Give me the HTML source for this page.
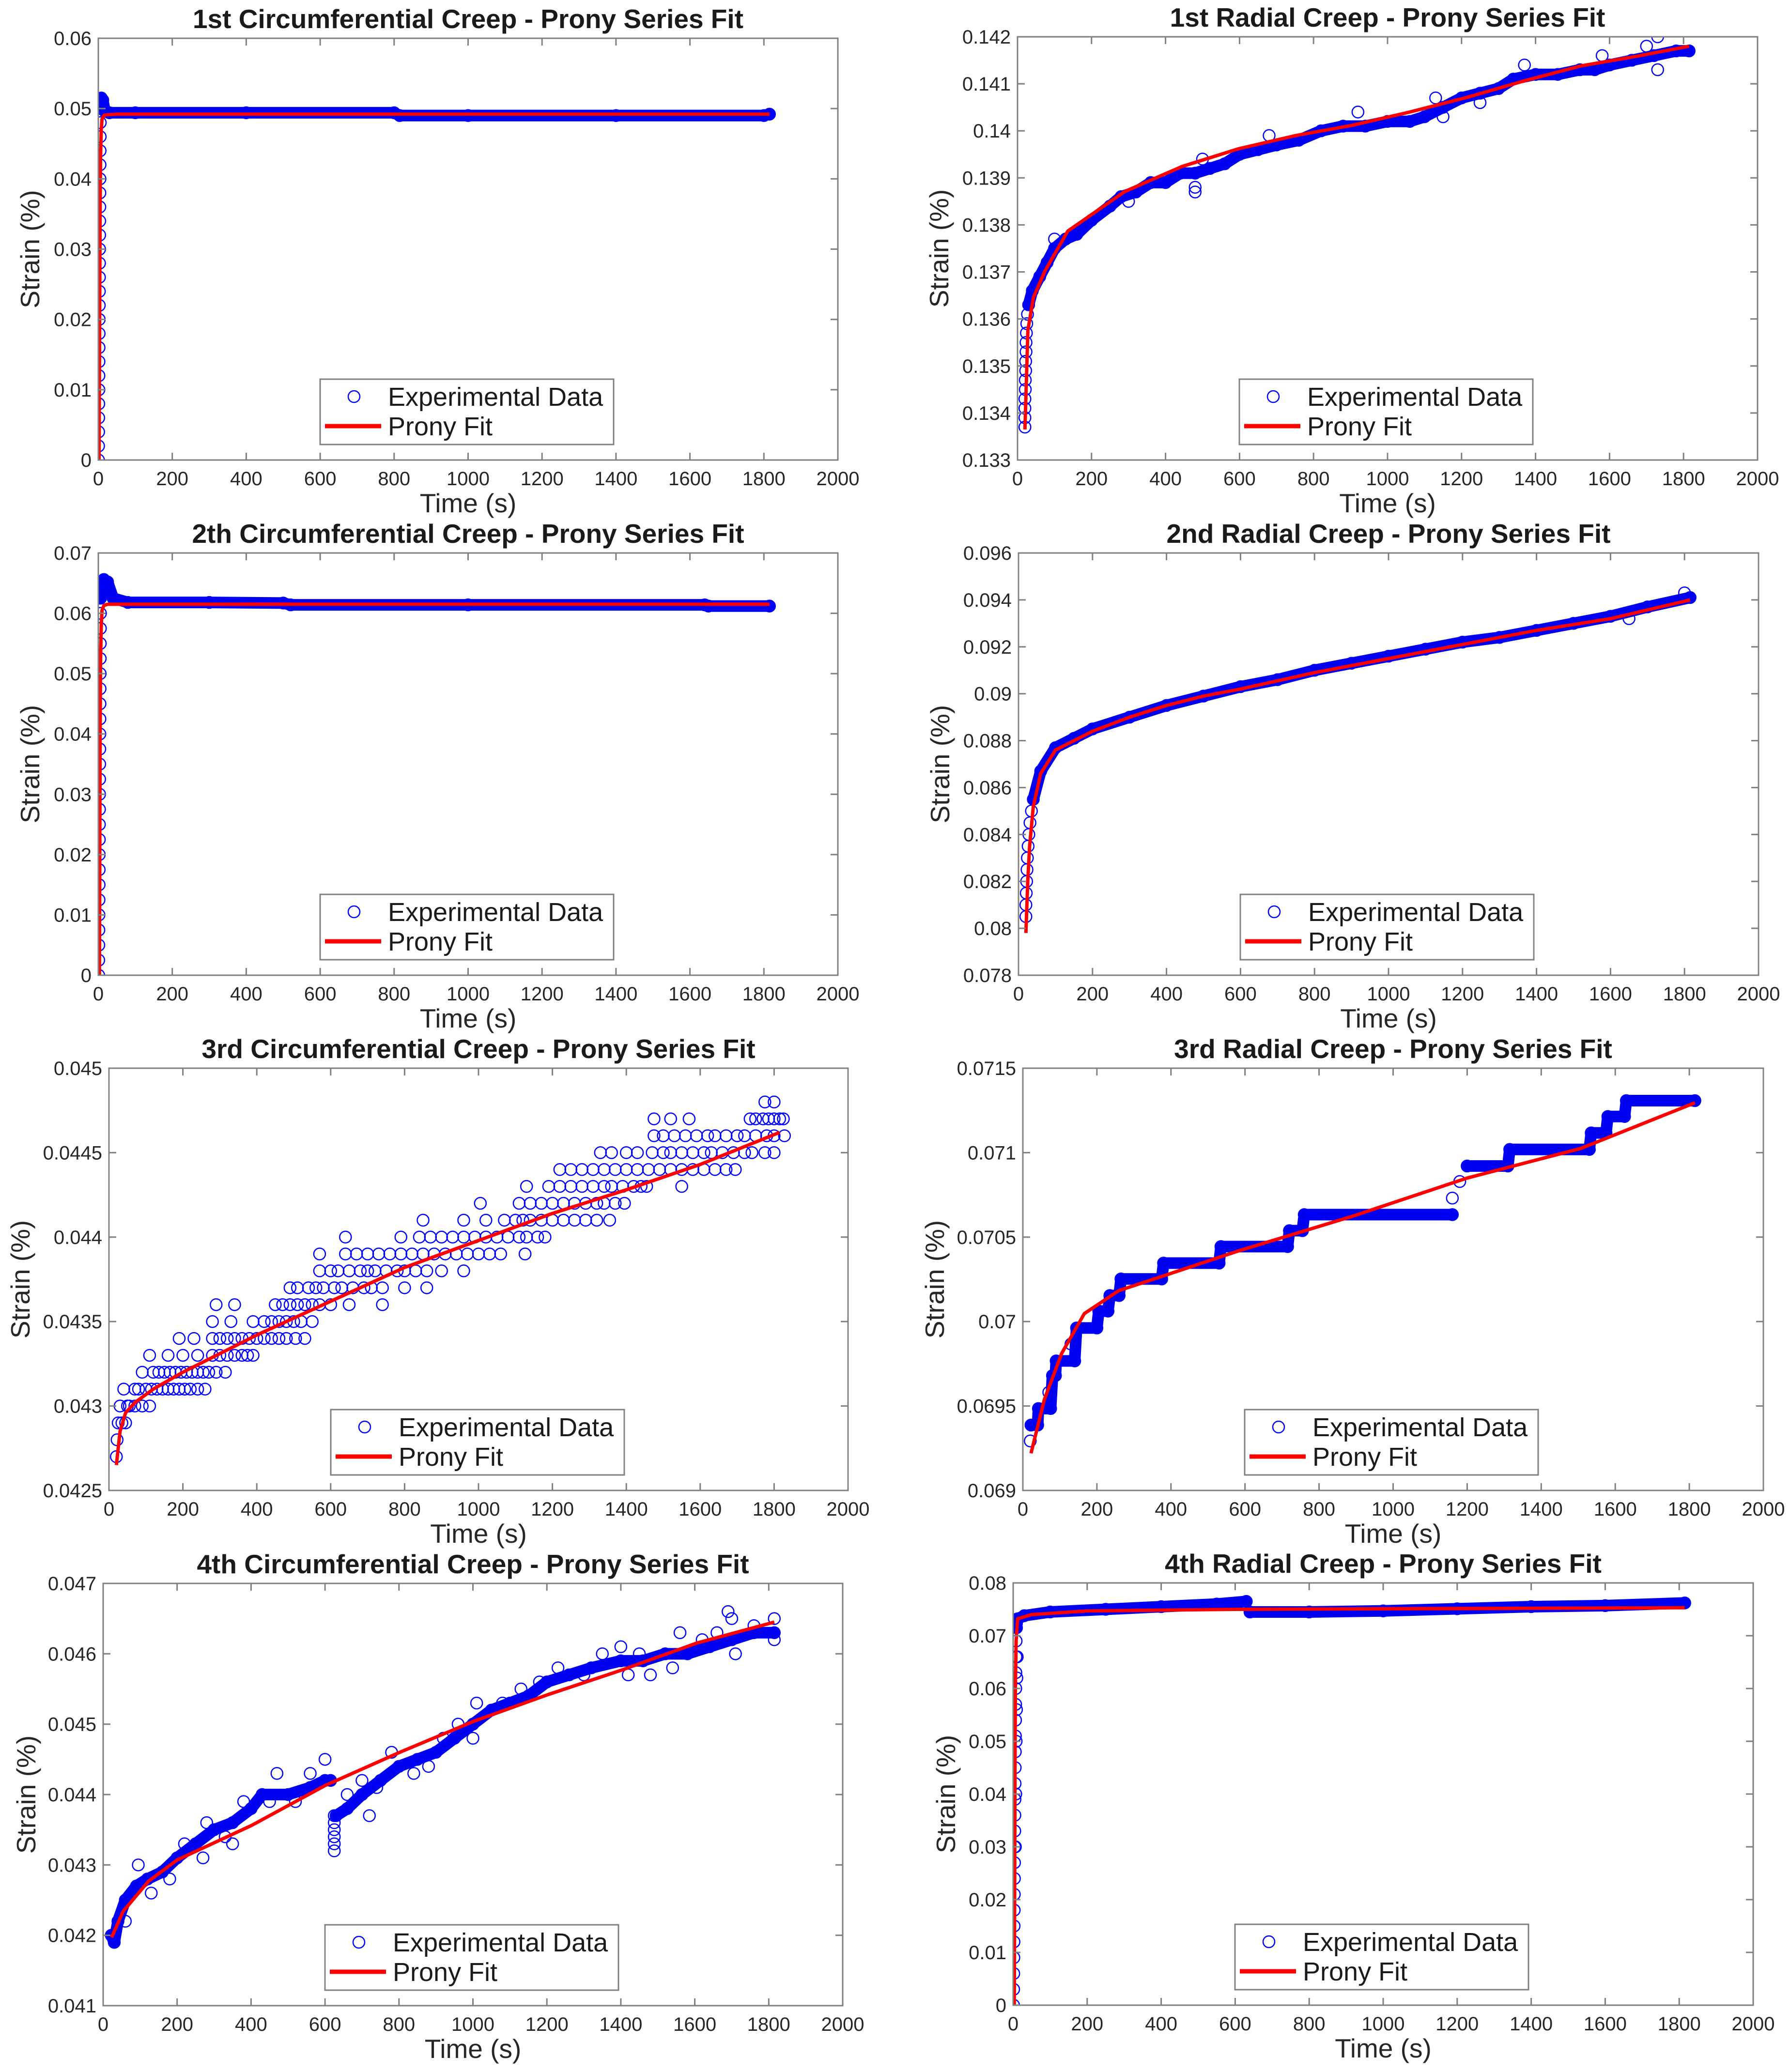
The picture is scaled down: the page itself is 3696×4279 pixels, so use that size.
<!DOCTYPE html>
<html><head><meta charset="utf-8"><title>Creep Prony Series Fits</title>
<style>
html,body{margin:0;padding:0;background:#fff;}
svg{display:block;}
text{font-family:"Liberation Sans",Arial,sans-serif;}
</style></head>
<body>
<svg id="fig" xmlns="http://www.w3.org/2000/svg" width="3696" height="4279" viewBox="0 0 3696 4279"></svg>
<script>
// ---------- data ----------
const xTicks = [0,200,400,600,800,1000,1200,1400,1600,1800,2000];
const xTickLabels = ['0','200','400','600','800','1000','1200','1400','1600','1800','2000'];

// Panel 1: 1st Circumferential
const p1YTicks = [0,0.01,0.02,0.03,0.04,0.05,0.06];
const p1YLabels = ['0','0.01','0.02','0.03','0.04','0.05','0.06'];
const p1Rise = [[0.5,0],[0.7,.002],[0.9,.004],[1.1,.006],[1.3,.008],[1.5,.010],[1.7,.012],[1.9,.014],[2.1,.016],[2.3,.018],[2.5,.020],[2.7,.022],[2.9,.024],[3.1,.026],[3.3,.028],[3.5,.030],[3.7,.032],[3.9,.034],[4.1,.036],[4.3,.038],[4.5,.040],[4.7,.042],[4.9,.044],[5.1,.046],[5.3,.048],[5.5,.050]];
const p1Band = [[6,.0505],[8,.0515],[12,.0512],[18,.0496],[30,.0494],[100,.0494],[400,.0494],[800,.0494],[815,.0490],[1000,.0490],[1400,.0490],[1800,.0490],[1815,.0492]];
const p1Extra = [];
const p1Fit = [[2,0],[3,.012],[4,.025],[5,.036],[6,.043],[8,.047],[10,.0485],[15,.049],[20,.0491],[50,.0492],[500,.0492],[1000,.0492],[1815,.0492]];

// Panel 2: 1st Radial
const p2YTicks = [0.133,0.134,0.135,0.136,0.137,0.138,0.139,0.140,0.141,0.142];
const p2YLabels = ['0.133','0.134','0.135','0.136','0.137','0.138','0.139','0.14','0.141','0.142'];
const p2Rise = [[20,.1337],[20,.1339],[20,.1341],[20,.1343],[21,.1345],[21,.1347],[22,.1349],[22,.1351],[23,.1353],[23,.1355],[24,.1357],[25,.1359],[27,.1361]];
const p2Band = [[30,.1363],[40,.1366],[60,.1369],[80,.1372],[100,.1375],[130,.1377],[160,.1378],[200,.1381],[250,.1384],[280,.1386],[320,.1387],[360,.1389],[400,.1389],[440,.1391],[480,.1391],[520,.1392],[560,.1393],[600,.1395],[650,.1396],[700,.1397],[760,.1398],[820,.1400],[880,.1401],[940,.1401],[1000,.1402],[1060,.1402],[1100,.1403],[1150,.1405],[1200,.1407],[1250,.1408],[1300,.1409],[1340,.1411],[1400,.1412],[1460,.1412],[1520,.1413],[1560,.1413],[1600,.1414],[1660,.1415],[1720,.1416],[1780,.1417],[1815,.1417]];
const p2Extra = [[100,.1377],[300,.1385],[480,.1387],[480,.1388],[500,.1394],[680,.1399],[920,.1404],[1130,.1407],[1150,.1403],[1250,.1406],[1370,.1414],[1580,.1416],[1730,.1420],[1730,.1413],[1700,.1418]];
const p2Fit = [[20,.13365],[28,.13576],[43,.13646],[74,.13702],[136,.13787],[290,.13871],[444,.13924],[598,.13962],[752,.13990],[906,.14012],[1060,.1404],[1214,.14071],[1368,.14106],[1522,.14138],[1676,.14159],[1815,.1418]];

// Panel 3: 2th Circumferential
const p3YTicks = [0,0.01,0.02,0.03,0.04,0.05,0.06,0.07];
const p3YLabels = ['0','0.01','0.02','0.03','0.04','0.05','0.06','0.07'];
const p3Rise = [[1,0],[1.2,.0025],[1.4,.005],[1.6,.0075],[1.8,.010],[2,.0125],[2.2,.015],[2.4,.0175],[2.6,.020],[2.8,.0225],[3,.025],[3.2,.0275],[3.4,.030],[3.6,.0325],[3.8,.035],[4,.0375],[4.2,.040],[4.4,.0425],[4.6,.045],[4.8,.0475],[5,.050],[5.2,.0525],[5.4,.055],[5.6,.0575],[5.8,.060]];
const p3Band = [[6,.0625],[8,.0652],[15,.0656],[25,.0652],[40,.0625],[80,.0618],[300,.0618],[500,.0617],[520,.0614],[1000,.0614],[1640,.0614],[1650,.0612],[1815,.0612]];
const p3Extra = [];
const p3Fit = [[3,0],[4,.02],[5,.04],[6,.052],[8,.058],[10,.0605],[15,.0613],[25,.0615],[100,.0615],[1000,.0615],[1815,.0615]];

// Panel 4: 2nd Radial
const p4YTicks = [0.078,0.080,0.082,0.084,0.086,0.088,0.090,0.092,0.094,0.096];
const p4YLabels = ['0.078','0.08','0.082','0.084','0.086','0.088','0.09','0.092','0.094','0.096'];
const p4Rise = [[20,.0805],[20,.0810],[21,.0815],[22,.0820],[23,.0825],[24,.0830],[26,.0835],[28,.0840],[31,.0845],[35,.0850]];
const p4Band = [[40,.0855],[60,.0867],[100,.0877],[150,.0881],[200,.0885],[300,.0890],[400,.0895],[500,.0899],[600,.0903],[700,.0906],[800,.0910],[900,.0913],[1000,.0916],[1100,.0919],[1200,.0922],[1300,.0924],[1400,.0927],[1500,.0930],[1600,.0933],[1700,.0937],[1815,.0941]];
const p4Extra = [[1800,.0943],[1650,.0932]];
const p4Fit = [[20,.0798],[25,.0820],[30,.0835],[40,.0852],[60,.0866],[100,.0876],[200,.0884],[300,.0890],[400,.0895],[500,.0899],[600,.0902],[800,.0909],[1000,.0915],[1200,.0921],[1400,.0927],[1600,.0932],[1815,.0940]];

// Panel 5: 3rd Circumferential
const p5YTicks = [0.0425,0.043,0.0435,0.044,0.0445,0.045];
const p5YLabels = ['0.0425','0.043','0.0435','0.044','0.0445','0.045'];
const p5Rise = [[20,.0427],[22,.0428],[25,.0429],[35,.0429],[45,.0429]];
const p5Band = [];
const p5Extra = [[30,.0430],[50,.0430],[70,.0430],[90,.0430],[110,.0430],[40,.0431],[70,.0431],[100,.0431],[130,.0431],[160,.0431],[190,.0431],[220,.0431],[260,.0431],[90,.0432],[120,.0432],[150,.0432],[180,.0432],[210,.0432],[240,.0432],[270,.0432],[315,.0432],[110,.0433],[160,.0433],[200,.0433],[240,.0433],[280,.0433],[320,.0433],[360,.0433],[390,.0433],[190,.0434],[230,.0434],[280,.0434],[320,.0434],[360,.0434],[400,.0434],[440,.0434],[480,.0434],[530,.0434],[280,.0435],[330,.0435],[390,.0435],[420,.0435],[460,.0435],[500,.0435],[550,.0435],[290,.0436],[340,.0436],[450,.0436],[490,.0436],[530,.0436],[600,.0436],[650,.0436],[740,.0436],[490,.0437],[540,.0437],[580,.0437],[630,.0437],[690,.0437],[740,.0437],[800,.0437],[860,.0437],[570,.0438],[620,.0438],[680,.0438],[720,.0438],[780,.0438],[830,.0438],[900,.0438],[960,.0438],[570,.0439],[640,.0439],[700,.0439],[760,.0439],[820,.0439],[880,.0439],[940,.0439],[1000,.0439],[1060,.0439],[1126,.0439],[640,.0440],[790,.0440],[840,.0440],[900,.0440],[960,.0440],[1020,.0440],[1080,.0440],[1130,.0440],[1180,.0440],[850,.0441],[960,.0441],[1020,.0441],[1100,.0441],[1140,.0441],[1200,.0441],[1260,.0441],[1320,.0441],[1355,.0441],[1005,.0442],[1110,.0442],[1170,.0442],[1230,.0442],[1290,.0442],[1340,.0442],[1395,.0442],[1130,.0443],[1190,.0443],[1250,.0443],[1310,.0443],[1360,.0443],[1420,.0443],[1455,.0443],[1550,.0443],[1220,.0444],[1280,.0444],[1340,.0444],[1400,.0444],[1460,.0444],[1520,.0444],[1580,.0444],[1640,.0444],[1695,.0444],[1330,.0445],[1400,.0445],[1470,.0445],[1520,.0445],[1580,.0445],[1630,.0445],[1690,.0445],[1740,.0445],[1775,.0445],[1475,.0446],[1530,.0446],[1590,.0446],[1640,.0446],[1700,.0446],[1750,.0446],[1800,.0446],[1828,.0446],[1475,.0447],[1520,.0447],[1570,.0447],[1735,.0447],[1770,.0447],[1800,.0447],[1825,.0447],[1775,.0448],[1800,.0448],[1800,.0445],
 [55,.0430],[80,.0431],[115,.0431],[145,.0431],[175,.0431],[205,.0431],[240,.0431],[135,.0432],[165,.0432],[195,.0432],[225,.0432],[255,.0432],[290,.0432],[300,.0433],[340,.0433],[375,.0433],[300,.0434],[340,.0434],[380,.0434],[420,.0434],[460,.0434],[505,.0434],[440,.0435],[480,.0435],[520,.0435],[470,.0436],[510,.0436],[550,.0436],[570,.0436],[510,.0437],[560,.0437],[610,.0437],[660,.0437],[710,.0437],[600,.0438],[650,.0438],[700,.0438],[750,.0438],[800,.0438],[860,.0438],[670,.0439],[730,.0439],[790,.0439],[850,.0439],[910,.0439],[970,.0439],[1030,.0439],[870,.0440],[930,.0440],[990,.0440],[1050,.0440],[1110,.0440],[1160,.0440],[1070,.0441],[1120,.0441],[1170,.0441],[1230,.0441],[1290,.0441],[1140,.0442],[1200,.0442],[1260,.0442],[1320,.0442],[1370,.0442],[1220,.0443],[1280,.0443],[1340,.0443],[1390,.0443],[1440,.0443],[1250,.0444],[1310,.0444],[1370,.0444],[1430,.0444],[1490,.0444],[1550,.0444],[1610,.0444],[1670,.0444],[1360,.0445],[1430,.0445],[1500,.0445],[1550,.0445],[1610,.0445],[1660,.0445],[1720,.0445],[1500,.0446],[1560,.0446],[1620,.0446],[1670,.0446],[1720,.0446],[1780,.0446],[1750,.0447],[1785,.0447],[1815,.0447]];
const p5Fit = [[20,.04265],[30,.04285],[45,.04296],[70,.04302],[120,.04310],[200,.04320],[300,.04331],[400,.04342],[500,.04352],[600,.04362],[700,.04372],[800,.04382],[1000,.04398],[1200,.04414],[1400,.04428],[1600,.04443],[1815,.04462]];

// Panel 6: 3rd Radial
const p6YTicks = [0.069,0.0695,0.070,0.0705,0.071,0.0715];
const p6YLabels = ['0.069','0.0695','0.07','0.0705','0.071','0.0715'];
const p6Rise = [[20,.069293],[70,.069581],[130,.069867],[1160,.070731],[1180,.070829]];
const p6Band = [[22,.069387],[40,.069387],[42,.069485],[75,.069485],[80,.069680],[88,.069680],[90,.069767],[140,.069767],[145,.069962],[200,.069962],[205,.070062],[230,.070062],[235,.070154],[260,.070154],[265,.070252],[375,.070252],[380,.070346],[530,.070346],[535,.070444],[715,.070444],[720,.070538],[755,.070538],[760,.070633],[1160,.070633]];
const p6Band2 = [[1200,.070921],[1310,.070921],[1315,.071019],[1530,.071019],[1535,.071117],[1575,.071117],[1580,.071214],[1625,.071214],[1630,.071308],[1815,.071308]];
const p6Fit = [[22,.069220],[58,.069538],[105,.069812],[166,.070047],[259,.070183],[382,.070272],[582,.070418],[891,.070624],[1199,.070849],[1507,.071025],[1815,.071295]];

// Panel 7: 4th Circumferential
const p7YTicks = [0.041,0.042,0.043,0.044,0.045,0.046,0.047];
const p7YLabels = ['0.041','0.042','0.043','0.044','0.045','0.046','0.047'];
const p7Rise = [[625,.0437],[625,.0436],[625,.0435],[625,.0434],[625,.0433],[625,.0432]];
const p7Band = [[22,.0420],[30,.0419],[40,.0422],[60,.0425],[90,.0427],[120,.0428],[160,.0429],[200,.0431],[250,.0433],[300,.0435],[350,.0436],[400,.0438],[430,.0440],[500,.0440],[560,.0441],[600,.0442],[615,.0442]];
const p7Band2 = [[630,.0437],[660,.0438],[700,.0440],[750,.0442],[800,.0444],[850,.0445],[900,.0446],[950,.0448],[1000,.0450],[1050,.0452],[1100,.0453],[1150,.0454],[1200,.0456],[1260,.0457],[1320,.0458],[1400,.0459],[1460,.0459],[1520,.0460],[1580,.0460],[1640,.0461],[1700,.0462],[1760,.0463],[1815,.0463]];
const p7Extra = [[95,.0430],[60,.0422],[270,.0431],[350,.0433],[470,.0443],[600,.0445],[700,.0442],[720,.0437],[880,.0444],[960,.0450],[1010,.0453],[1180,.0456],[1400,.0461],[1420,.0457],[1480,.0457],[1560,.0463],[1690,.0466],[1700,.0465],[1710,.0460],[1815,.0462],[1815,.0465],
 [130,.0426],[180,.0428],[220,.0433],[280,.0436],[330,.0434],[380,.0439],[450,.0439],[520,.0439],[560,.0443],[660,.0440],[740,.0441],[780,.0446],[840,.0443],[920,.0448],[1000,.0448],[1080,.0453],[1130,.0455],[1230,.0458],[1300,.0457],[1350,.0460],[1450,.0460],[1540,.0458],[1620,.0462],[1660,.0463],[1760,.0464]];
const p7Fit = [[23,.04197],[54,.04234],[123,.04277],[200,.04307],[401,.04356],[601,.04413],[802,.04460],[1002,.04504],[1203,.04542],[1403,.04577],[1604,.04615],[1815,.04645]];

// Panel 8: 4th Radial
const p8YTicks = [0,0.01,0.02,0.03,0.04,0.05,0.06,0.07,0.08];
const p8YLabels = ['0','0.01','0.02','0.03','0.04','0.05','0.06','0.07','0.08'];
const p8Rise = [[1,0],[1.3,.003],[1.6,.006],[1.9,.009],[2.2,.012],[2.5,.015],[2.8,.018],[3.1,.021],[3.4,.024],[3.7,.027],[4,.030],[4.3,.033],[4.6,.036],[4.9,.039],[5.2,.042],[5.5,.045],[5.8,.048],[6.1,.051],[6.4,.054],[6.7,.057],[7,.060],[7.3,.063],[7.6,.066],[8,.069],
 [6,.030],[7,.040],[8,.050],[9,.056],[10,.062],[11,.066]];
const p8Band = [[9,.0715],[12,.0732],[30,.0738],[100,.0745],[250,.0750],[400,.0755],[550,.0760],[630,.0765]];
const p8Band2 = [[640,.0745],[800,.0745],[1000,.0747],[1200,.0751],[1400,.0755],[1600,.0757],[1815,.0762]];
const p8Fit = [[3,0],[4,.02],[5,.045],[6,.06],[8,.069],[12,.0732],[50,.0740],[200,.0747],[600,.0750],[1000,.0751],[1815,.0753]];

// ---------- layout (pixel geometry, not data) ----------
const panels = [
 {id:'p1',title:'1st Circumferential Creep - Prony Series Fit',L:203,R:1730,T:79,B:950,y0:0,y1:0.06,yt:p1YTicks,yl:p1YLabels,rise:p1Rise,bands:[p1Band],extra:p1Extra,fit:p1Fit,ylx:141},
 {id:'p2',title:'1st Radial Creep - Prony Series Fit',L:2101,R:3629,T:76,B:950,y0:0.133,y1:0.142,yt:p2YTicks,yl:p2YLabels,rise:p2Rise,bands:[p2Band],extra:p2Extra,fit:p2Fit,ylx:162},
 {id:'p3',title:'2th Circumferential Creep - Prony Series Fit',L:203,R:1730,T:1142,B:2014,y0:0,y1:0.07,yt:p3YTicks,yl:p3YLabels,rise:p3Rise,bands:[p3Band],extra:p3Extra,fit:p3Fit,ylx:141},
 {id:'p4',title:'2nd Radial Creep - Prony Series Fit',L:2103,R:3631,T:1142,B:2014,y0:0.078,y1:0.096,yt:p4YTicks,yl:p4YLabels,rise:p4Rise,bands:[p4Band],extra:p4Extra,fit:p4Fit,ylx:162},
 {id:'p5',title:'3rd Circumferential Creep - Prony Series Fit',L:225,R:1751,T:2206,B:3078,y0:0.0425,y1:0.045,yt:p5YTicks,yl:p5YLabels,rise:p5Rise,bands:[p5Band],extra:p5Extra,fit:p5Fit,ylx:183},
 {id:'p6',title:'3rd Radial Creep - Prony Series Fit',L:2112,R:3641,T:2206,B:3078,y0:0.069,y1:0.0715,yt:p6YTicks,yl:p6YLabels,rise:p6Rise,bands:[p6Band,p6Band2],extra:[],fit:p6Fit,ylx:182},
 {id:'p7',title:'4th Circumferential Creep - Prony Series Fit',L:213,R:1740,T:3270,B:4142,y0:0.041,y1:0.047,yt:p7YTicks,yl:p7YLabels,rise:p7Rise,bands:[p7Band,p7Band2],extra:p7Extra,fit:p7Fit,ylx:159},
 {id:'p8',title:'4th Radial Creep - Prony Series Fit',L:2092,R:3620,T:3269,B:4141,y0:0,y1:0.08,yt:p8YTicks,yl:p8YLabels,rise:p8Rise,bands:[p8Band,p8Band2],extra:[],fit:p8Fit,ylx:139}
];

const NS='http://www.w3.org/2000/svg';
const svg=document.getElementById('fig');
function mk(tag,attrs,parent){const e=document.createElementNS(NS,tag);for(const k in attrs)e.setAttribute(k,attrs[k]);parent.appendChild(e);return e;}

panels.forEach(p=>{
  const g=mk('g',{},svg);
  
  
  const sx=t=>p.L+(t-0)/(2000-0)*(p.R-p.L);
  const sy=v=>p.B-(v-p.y0)/(p.y1-p.y0)*(p.B-p.T);
  const cx=(p.L+p.R)/2;

  const ti=mk('text',{x:cx,y:p.T-21,'text-anchor':'middle','font-size':55,'font-weight':'bold',fill:'#1a1a1a'},g);
  ti.textContent=p.title;
  
  

  const clip=mk('clipPath',{id:'clip-'+p.id},g);
  mk('rect',{x:p.L,y:p.T,width:p.R-p.L,height:p.B-p.T},clip);

  const dg=mk('g',{'clip-path':'url(#clip-'+p.id+')'},g);
  
  
  p.bands.forEach(b=>{
    if(!b.length) return;
    const pl=mk('polyline',{points:b.map(d=>sx(d[0])+','+sy(d[1])).join(' '),fill:'none',stroke:'#0000f0','stroke-width':24,'stroke-linejoin':'round','stroke-linecap':'round'},dg);
    
    
  });
  const allPts=[].concat(p.rise,...p.bands,p.extra);
  allPts.forEach(d=>{
    const c=mk('circle',{cx:sx(d[0]),cy:sy(d[1]),r:12,fill:'none',stroke:'#0000ff','stroke-width':2.5},dg);
    
    
  });
  const fl=mk('polyline',{points:p.fit.map(d=>sx(d[0])+','+sy(d[1])).join(' '),fill:'none',stroke:'#ff0000','stroke-width':7,'stroke-linejoin':'round'},dg);
  
  

  const box=mk('rect',{x:p.L,y:p.T,width:p.R-p.L,height:p.B-p.T,fill:'none',stroke:'#808080','stroke-width':3},g);
  
  

  xTicks.forEach((t,i)=>{
    const x=sx(t);
    mk('line',{x1:x,y1:p.B,x2:x,y2:p.B-15,stroke:'#808080','stroke-width':3},g);
    mk('line',{x1:x,y1:p.T,x2:x,y2:p.T+15,stroke:'#808080','stroke-width':3},g);
    const tl=mk('text',{x:x,y:p.B+52,'text-anchor':'middle','font-size':40,fill:'#262626'},g);
    tl.textContent=xTickLabels[i];
    
    
  });
  p.yt.forEach((v,i)=>{
    const y=sy(v);
    mk('line',{x1:p.L,y1:y,x2:p.L+15,y2:y,stroke:'#808080','stroke-width':3},g);
    mk('line',{x1:p.R,y1:y,x2:p.R-15,y2:y,stroke:'#808080','stroke-width':3},g);
    const tl=mk('text',{x:p.L-14,y:y+14,'text-anchor':'end','font-size':40,fill:'#262626'},g);
    tl.textContent=p.yl[i];
    
    
  });
  const xl=mk('text',{x:cx,y:p.B+108,'text-anchor':'middle','font-size':55,fill:'#262626'},g);
  xl.textContent='Time (s)';
  
  
  const ylx=p.L-p.ylx, yly=(p.T+p.B)/2;
  const yl=mk('text',{x:ylx,y:yly,'text-anchor':'middle','dominant-baseline':'central','font-size':55,fill:'#262626',transform:'rotate(-90 '+ylx+' '+yly+')'},g);
  yl.textContent='Strain (%)';
  
  

  const lx=p.L+458, ly=p.B-167;
  const lg=mk('g',{},g);
  
  
  mk('rect',{x:lx,y:ly,width:606,height:135,fill:'#fff',stroke:'#808080','stroke-width':3},lg);
  const lc=mk('circle',{cx:lx+70,cy:ly+36,r:12,fill:'none',stroke:'#0000ff','stroke-width':2.5},lg);
  
  
  const t1=mk('text',{x:lx+140,y:ly+55,'font-size':54,fill:'#1a1a1a'},lg);
  t1.textContent='Experimental Data';
  
  
  const ll=mk('line',{x1:lx+10,y1:ly+97,x2:lx+126,y2:ly+97,stroke:'#ff0000','stroke-width':9},lg);
  
  
  const t2=mk('text',{x:lx+140,y:ly+116,'font-size':54,fill:'#1a1a1a'},lg);
  t2.textContent='Prony Fit';
  
  
});
</script>
</body></html>
